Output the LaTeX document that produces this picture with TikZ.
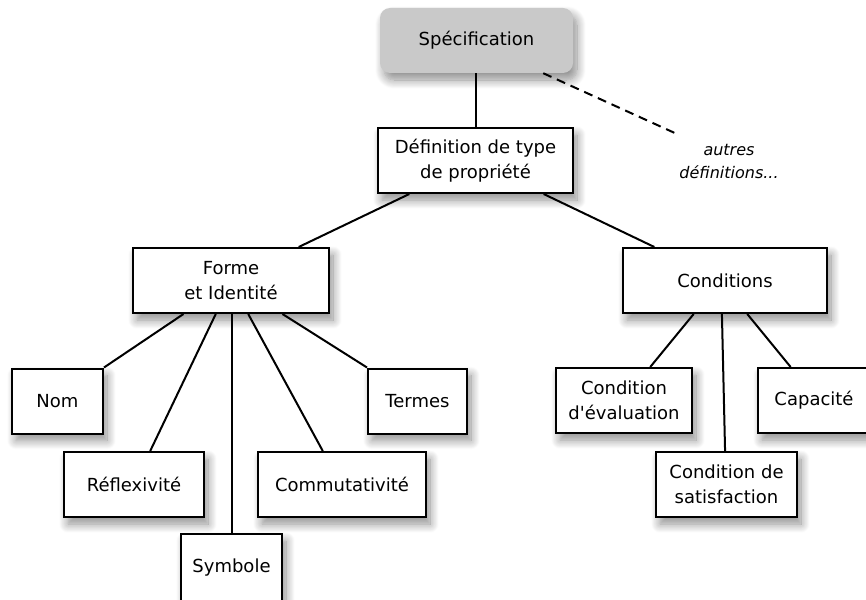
\documentclass[tikz,border=0pt]{standalone}
\usepackage{fontspec}
\setmainfont{DejaVu Sans}
\usetikzlibrary{calc,shadows.blur}

\tikzset{
  softshadow/.style={blur shadow={shadow xshift=4pt, shadow yshift=-7pt,
      shadow blur radius=9pt, shadow blur steps=12, shadow opacity=45}},
  box/.style={draw=black, line width=2pt, fill=white, align=center,
      inner sep=0pt, minimum height=65pt,
      font=\fontsize{18}{25}\selectfont, softshadow},
  rootbox/.style={fill=black!21, rounded corners=10pt, align=center,
      inner sep=0pt, minimum width=193pt, minimum height=65pt,
      font=\fontsize{18}{25}\selectfont, softshadow},
  link/.style={line width=2pt, draw=black},
  otherlink/.style={line width=2pt, draw=black, dash pattern=on 9pt off 6pt},
  note/.style={align=center, font=\fontsize{16}{23}\selectfont\itshape}
}

\begin{document}
\begin{tikzpicture}[x=1pt, y=-1pt]
  \useasboundingbox (0,0) rectangle (866,599);

  % root and first level
  \node[rootbox] (spec) at (476.5,40.5) {Spécification};
  \node[box, minimum width=195pt] (def) at (475.5,160.5) {Définition de type\\de propriété};
  \node[note] (autres) at (729,161) {autres\\définitions...};
  \coordinate (autresend) at (677,134);

  % second level
  \node[box, minimum width=196pt] (forme) at (231,280.5) {Forme\\et Identité};
  \node[box, minimum width=204pt] (cond) at (725,280.5) {Conditions};

  % children of Forme et Identité
  \node[box, minimum width=91pt]  (nom)    at (57.5,401)   {Nom};
  \node[box, minimum width=140pt] (reflex) at (134,484.5)  {Réflexivité};
  \node[box, minimum width=101pt, minimum height=68pt] (symb) at (231.5,568) {Symbole};
  \node[box, minimum width=168pt] (commut) at (342,484.5)  {Commutativité};
  \node[box, minimum width=99pt]  (termes) at (417.5,401)  {Termes};

  % children of Conditions
  \node[box, minimum width=136pt] (eval)   at (624,400.5)  {Condition\\d\textquotesingle évaluation};
  \node[box, minimum width=141pt] (satis)  at (726.5,484.5){Condition de\\satisfaction};
  \node[box, minimum width=112pt] (capa)   at (814,400.5)  {Capacité};

  % connectors
  \draw[link] (spec.south -| def.north) -- (def.north);
  \draw[otherlink] ($(spec.south west)!0.845!(spec.south east)$) -- (autresend);

  \draw[link] ($(def.south west)!0.164!(def.south east)$) -- ($(forme.north west)!0.842!(forme.north east)$);
  \draw[link] ($(def.south west)!0.846!(def.south east)$) -- ($(cond.north west)!0.157!(cond.north east)$);

  \draw[link] ($(forme.south west)!0.26!(forme.south east)$)  -- (nom.north east);
  \draw[link] ($(forme.south west)!0.423!(forme.south east)$) -- ($(reflex.north west)!0.614!(reflex.north east)$);
  \draw[link] (forme.south -| symb.north) -- (symb.north);
  \draw[link] ($(forme.south west)!0.587!(forme.south east)$) -- ($(commut.north west)!0.387!(commut.north east)$);
  \draw[link] ($(forme.south west)!0.76!(forme.south east)$)  -- (termes.north west);

  \draw[link] ($(cond.south west)!0.348!(cond.south east)$) -- ($(eval.north west)!0.69!(eval.north east)$);
  \draw[link] ($(cond.south west)!0.485!(cond.south east)$) -- ($(satis.north west)!0.49!(satis.north east)$);
  \draw[link] ($(cond.south west)!0.608!(cond.south east)$) -- ($(capa.north west)!0.295!(capa.north east)$);
\end{tikzpicture}
\end{document}
